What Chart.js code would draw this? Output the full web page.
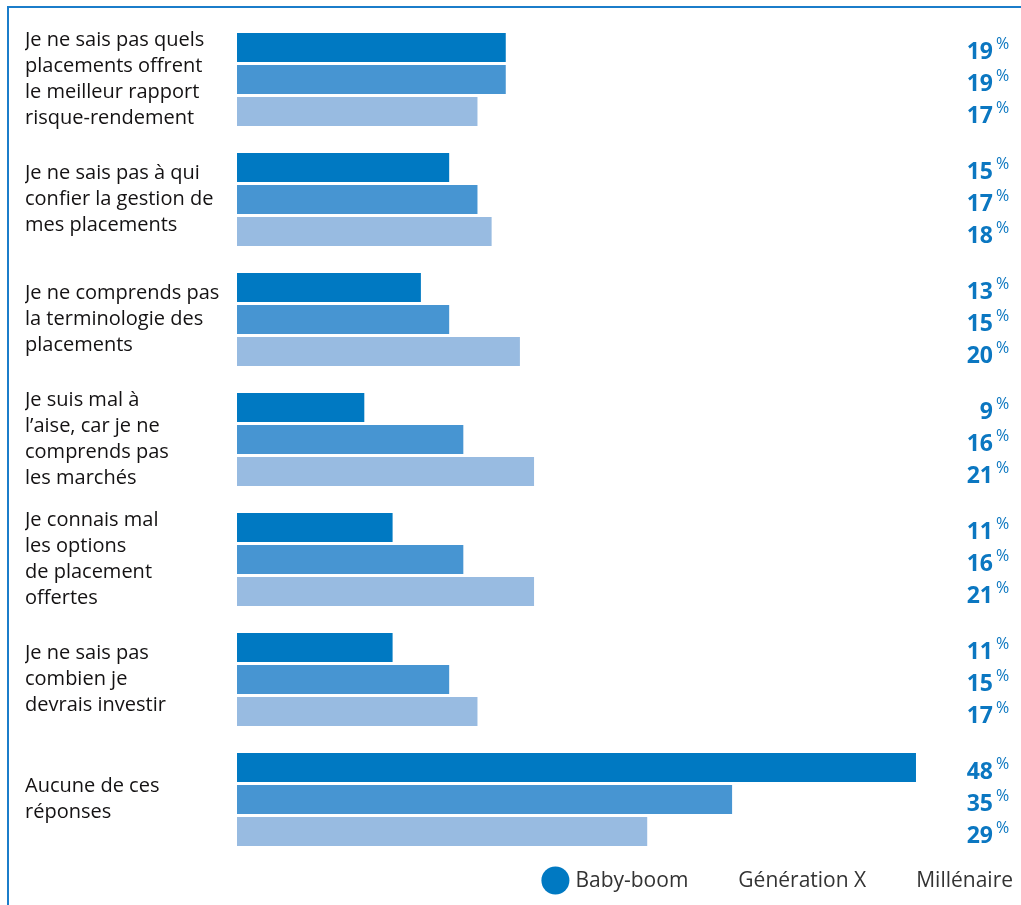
<!DOCTYPE html>
<html lang="fr">
<head>
<meta charset="utf-8">
<title>Obstacles aux placements par génération</title>
<script src="https://cdn.jsdelivr.net/npm/chart.js@4.4.1/dist/chart.umd.min.js"></script>
<style>
    html, body { margin: 0; padding: 0; background: #fff; overflow: hidden; }
    #frame {
        position: absolute;
        left: 7px;
        top: 6px;
        width: 1030px;
        height: 920px;
        border-left: 2.5px solid #1b7dca;
        border-top: 2.5px solid #1b7dca;
    }
    #wrap { position: absolute; left: 0; top: 0; width: 1021px; height: 905px; }
</style>
</head>
<body>
<div id="frame"></div>
<div id="wrap"><canvas id="barChart"></canvas></div>
<script>
// Reasons given, one entry per group (each line is drawn on its own row)
const categories = [
    ['Je ne sais pas quels', 'placements offrent', 'le meilleur rapport', 'risque-rendement'],
    ['Je ne sais pas à qui', 'confier la gestion de', 'mes placements'],
    ['Je ne comprends pas', 'la terminologie des', 'placements'],
    ['Je suis mal à', 'l\u2019aise, car je ne', 'comprends pas', 'les marchés'],
    ['Je connais mal', 'les options', 'de placement', 'offertes'],
    ['Je ne sais pas', 'combien je', 'devrais investir'],
    ['Aucune de ces', 'réponses']
];

// Share of respondents (%) per generation
const babyBoom = [19, 15, 13, 9, 11, 11, 48];
const generationX = [19, 17, 15, 16, 16, 15, 35];
const millenaire = [17, 18, 20, 21, 21, 17, 29];

const seriesNames = ['Baby-boom', 'Génération X', 'Millénaire'];
const seriesColors = ['#0079c2', '#4795d2', '#98bbe1'];

const labelColor = '#0b77c1';
const fontFamily = '"Open Sans", sans-serif';

// Draws the "NN %" values on the right edge, aligned with each bar
const valueLabels = {
    id: 'valueLabels',
    afterDatasetsDraw(chart) {
        const ctx = chart.ctx;
        const right = chart.chartArea.right;
        ctx.save();
        ctx.fillStyle = labelColor;
        chart.data.datasets.forEach((ds, i) => {
            const meta = chart.getDatasetMeta(i);
            meta.data.forEach((bar, j) => {
                const y = bar.y + 5;
                ctx.font = 'bold 23px ' + fontFamily;
                ctx.textAlign = 'right';
                ctx.textBaseline = 'middle';
                ctx.fillText(String(ds.data[j]), right - 22, y);
                ctx.font = '16px ' + fontFamily;
                ctx.textAlign = 'left';
                ctx.fillText('%', right - 19, y - 8);
            });
        });
        ctx.restore();
    }
};

// Legend row under the bars, right aligned; only the first series gets a dot
const bottomLegend = {
    id: 'bottomLegend',
    afterDraw(chart) {
        const ctx = chart.ctx;
        const y = chart.chartArea.bottom + 22;
        const gap = 50;
        ctx.save();
        ctx.font = '21px ' + fontFamily;
        ctx.textBaseline = 'middle';
        ctx.textAlign = 'left';
        let x = chart.width - 8;
        for (let i = seriesNames.length - 1; i >= 0; i--) {
            const w = ctx.measureText(seriesNames[i]).width;
            x -= w;
            ctx.fillStyle = '#333';
            ctx.fillText(seriesNames[i], x, y);
            if (i === 0) {
                ctx.fillStyle = seriesColors[0];
                ctx.beginPath();
                ctx.arc(x - 20, y - 1, 14, 0, Math.PI * 2);
                ctx.fill();
            }
            x -= gap;
        }
        ctx.restore();
    }
};

const ctx = document.getElementById('barChart');

new Chart(ctx, {
    type: 'bar',
    data: {
        labels: categories,
        datasets: [
            { label: seriesNames[0], data: babyBoom, backgroundColor: seriesColors[0] },
            { label: seriesNames[1], data: generationX, backgroundColor: seriesColors[1] },
            { label: seriesNames[2], data: millenaire, backgroundColor: seriesColors[2] }
        ]
    },
    options: {
        indexAxis: 'y',
        responsive: true,
        maintainAspectRatio: false,
        animation: false,
        categoryPercentage: 0.8,
        barPercentage: 0.906,
        layout: {
            padding: { top: 19.5, left: 25, right: 6, bottom: 45.5 }
        },
        scales: {
            x: {
                display: false,
                min: 0,
                max: 55
            },
            y: {
                grid: { display: false },
                border: { display: false },
                ticks: {
                    crossAlign: 'far',
                    color: '#141213',
                    font: { family: fontFamily, size: 20, weight: '500', lineHeight: 1.3 }
                },
                afterFit(scale) {
                    scale.width = 212;
                    scale.paddingTop = 0;
                    scale.paddingBottom = 0;
                }
            }
        },
        plugins: {
            tooltip: { enabled: false },
            legend: { display: false }
        }
    },
    plugins: [valueLabels, bottomLegend]
});
</script>
</body>
</html>
